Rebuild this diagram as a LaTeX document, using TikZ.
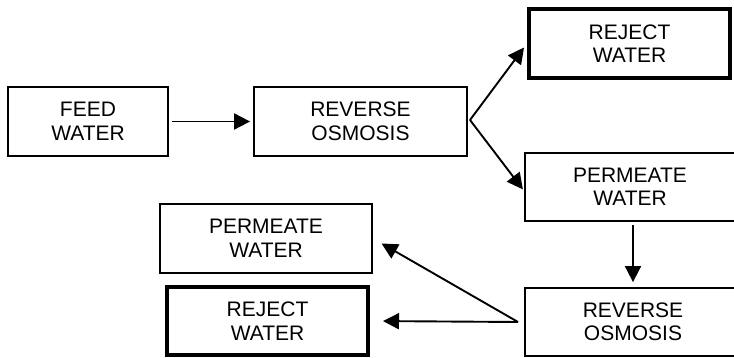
\documentclass[tikz,border=0pt]{standalone}
\usepackage{fontspec}
\setmainfont{Liberation Sans}
\usetikzlibrary{arrows.meta}

\begin{document}
\begin{tikzpicture}[x=1pt,y=-1pt,>={Triangle[length=16pt,width=16pt]},
	  box/.style={draw,line width=1.8pt,inner sep=0pt,align=center,
	    font=\fontsize{21pt}{23.5pt}\selectfont},
	  thickbox/.style={box,line width=4pt},
	  link/.style={->,line width=1.9pt}]
	  \clip (0,0) rectangle (734,358);
	  \node[box,minimum width=160pt,minimum height=69pt] (feed) at (88,121.5) {FEED\\WATER};
	  \node[box,minimum width=213pt,minimum height=69pt] (ro1) at (360.5,121.5) {REVERSE\\OSMOSIS};
	  \node[thickbox,minimum width=201pt,minimum height=69pt] (rej1) at (629.5,43.5) {REJECT\\WATER};
	  \node[box,minimum width=210pt,minimum height=68pt] (perm1) at (630,187) {PERMEATE\\WATER};
	  \node[box,minimum width=216pt,minimum height=68pt] (ro2) at (633,322) {REVERSE\\OSMOSIS};
	  \node[box,minimum width=212pt,minimum height=69pt] (perm2) at (266,238.5) {PERMEATE\\WATER};
	  \node[thickbox,minimum width=201pt,minimum height=68pt] (rej2) at (267.5,321) {REJECT\\WATER};
	  \coordinate (fork1) at (470,120);
	  \coordinate (fork2) at (518,322);
	  \draw[link,shorten <=3pt,shorten >=3pt] (feed) -- (ro1);
	  \draw[link,shorten >=5pt] (fork1) -- (rej1.west);
	  \draw[link,shorten >=2pt] (fork1) -- ([yshift=-4pt]perm1.west);
	  \draw[link,shorten <=3pt,shorten >=5pt] (ro2.north |- perm1.south) -- (ro2.north);
	  \draw[link,shorten >=10pt] (fork2) -- (perm2.east);
	  \draw[link,shorten >=13pt] (fork2) -- (rej2.east);
	\end{tikzpicture}
\end{document}
